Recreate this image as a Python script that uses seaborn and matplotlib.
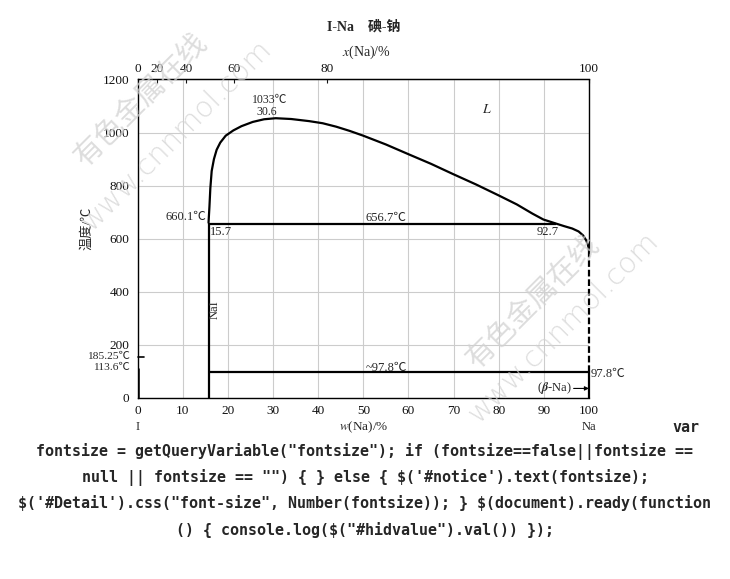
import numpy as np
import matplotlib
matplotlib.use("Agg")
import matplotlib.pyplot as plt
import seaborn as sns

# atomic masses for the at% <-> wt% top axis
M_I = 126.9
M_NA = 22.99

# liquidus curve, wt% Na vs temperature
liq_w = [15.7, 15.9, 16.1, 16.4, 16.9, 17.5, 18.3, 19.5, 21.2, 23.0, 25.5, 28.0, 30.6,
         34.0, 38.0, 41.0, 44.0, 47.0, 50.0, 55.0, 59.9, 65.0, 69.8, 75.0, 80.1,
         84.0, 87.5, 89.9, 92.7, 94.5, 96.3, 97.7, 98.7, 99.4, 99.8, 100.0]
liq_t = [660.1, 720, 790, 855, 900, 935, 962, 988, 1008, 1024, 1040, 1050, 1054,
         1051, 1043, 1035, 1022, 1006, 988, 955, 919, 882, 844, 804, 762,
         729, 694, 672, 656.7, 647, 638, 627, 612, 593, 575, 555]

# invariant points
nai_w = 15.7
nai_melt = 660.1
eut_t = 656.7
eut_w = 92.7
na_melt = 97.8
i_melt = 113.6
i_boil_mark = 154  # drawn position of the 185.25 mark
liq_end_t = 555

x_ticks = list(range(0, 101, 10))
y_ticks = list(range(0, 1201, 200))
top_ticks = [0, 20, 40, 60, 80, 100]

js_lines = [
    'fontsize = getQueryVariable("fontsize"); if (fontsize==false||fontsize ==',
    'null || fontsize == "") { } else { $(\'#notice\').text(fontsize);',
    '$(\'#Detail\').css("font-size", Number(fontsize)); } $(document).ready(function',
    '() { console.log($("#hidvalue").val()) });',
]
js_y = [451, 477, 503, 530]


def wt_to_at(w):
    w = np.clip(w, 0, 100)
    a = w / M_NA
    b = (100 - w) / M_I
    return 100 * a / (a + b)


def at_to_wt(x):
    x = np.clip(x, 0, 100)
    a = x * M_NA
    b = (100 - x) * M_I
    return 100 * a / (a + b)


sns.set_style("white")
plt.rcParams['font.family'] = ['Liberation Serif', 'Noto Sans CJK SC']
plt.rcParams['mathtext.fontset'] = 'stix'

fig = plt.figure(figsize=(7.3, 5.79), dpi=100)
ax = fig.add_axes([0.1886, 0.3131, 0.6182, 0.5496])

ax.set_xlim(0, 100)
ax.set_ylim(0, 1200)
ax.set_xticks(x_ticks)
ax.set_yticks(y_ticks)
ax.grid(True, color='#cccccc', lw=0.8)
ax.set_axisbelow(True)
ax.tick_params(axis='both', length=0, labelsize=9.5, colors='#111111')
ax.tick_params(axis='x', pad=5)
ax.tick_params(axis='y', pad=6)
for s in ['left', 'bottom', 'top']:
    ax.spines[s].set_color('black')
    ax.spines[s].set_linewidth(1.0)
ax.spines['right'].set_visible(False)

# liquidus
sns.lineplot(x=liq_w, y=liq_t, sort=False, estimator=None, color='black', lw=1.6, ax=ax)

# NaI compound, eutectic and Na-side lines
ax.vlines(nai_w, 0, nai_melt, color='black', lw=1.6)
ax.hlines(eut_t, nai_w, eut_w, color='black', lw=1.6)
ax.hlines(na_melt, nai_w, 100, color='black', lw=1.6)
ax.vlines(0, 0, i_melt, color='black', lw=1.8)
ax.plot([0, 1.3], [i_boil_mark, i_boil_mark], color='black', lw=1.2, clip_on=False)

# right edge: solid frame, dashed liquidus, solid below Na melting
ax.vlines(100, liq_end_t, 1200, color='black', lw=1.0, clip_on=False)
ax.vlines(100, na_melt, liq_end_t, color='black', lw=1.6, linestyles=(0, (3, 1.3)), clip_on=False)
ax.vlines(100, 0, na_melt, color='black', lw=1.6, clip_on=False)

# top axis in at%
sec = ax.secondary_xaxis('top', functions=(wt_to_at, at_to_wt))
sec.set_xticks(top_ticks)
sec.tick_params(direction='in', length=3, pad=3, labelsize=9.5, colors='#111111')

fs = 9
ax.text(29.3, 1122, '1033℃', ha='center', va='center', fontsize=8.5)
ax.text(28.7, 1076, '30.6', ha='center', va='center', fontsize=8.5)
ax.text(15.3, 682, '660.1℃', ha='right', va='center', fontsize=fs)
ax.text(16.0, 626, '15.7', ha='left', va='center', fontsize=fs)
ax.text(55.0, 676, '656.7℃', ha='center', va='center', fontsize=fs)
ax.text(90.9, 626, '92.7', ha='center', va='center', fontsize=fs)
ax.text(77.3, 1085, '$L$', ha='center', va='center', fontsize=10)
ax.text(17.1, 331, 'NaI', ha='center', va='center', fontsize=fs, rotation=90)
ax.text(55.2, 111, '~97.8℃', ha='center', va='center', fontsize=fs)
ax.text(100.4, 89, '97.8℃', ha='left', va='center', fontsize=fs, clip_on=False)
ax.text(96.2, 35, '($\\boldsymbol{\\beta}$-Na)', ha='right', va='center', fontsize=fs)
ax.annotate('', xy=(100, 35), xytext=(96.6, 35),
            arrowprops=dict(arrowstyle='-|>', lw=0.8, color='black', mutation_scale=6,
                            shrinkA=0, shrinkB=0))
ax.text(-1.7, 154, '185.25℃', ha='right', va='center', fontsize=8.2, clip_on=False)
ax.text(-1.7, 114, '113.6℃', ha='right', va='center', fontsize=8.2, clip_on=False)

ax.text(0, -0.092, 'I', transform=ax.get_xaxis_transform(), ha='center', va='center', fontsize=fs)
ax.text(100, -0.092, 'Na', transform=ax.get_xaxis_transform(), ha='center', va='center', fontsize=fs)
ax.text(50, -0.092, '$w$(Na)/%', transform=ax.get_xaxis_transform(), ha='center', va='center', fontsize=9.5)

ax.set_ylabel('温度/℃', fontsize=9.5)
ax.yaxis.set_label_coords(-0.099, 0.533)

fig.text(364 / 730, 1 - 27 / 579, 'I-Na    碘-钠', ha='center', va='center', fontsize=10, fontweight='bold')
fig.text(366 / 730, 1 - 52 / 579, '$x$(Na)/%', ha='center', va='center', fontsize=10)

# watermarks
wm = '#d2d2d2'
for cx, cy, s, fam in [(141, 100, '有色金属在线', 'Noto Sans CJK SC'),
                       (176, 136, 'www.cnnmol.com', 'DejaVu Sans'),
                       (533, 302, '有色金属在线', 'Noto Sans CJK SC'),
                       (563, 328, 'www.cnnmol.com', 'DejaVu Sans')]:
    fig.text(cx / 730, 1 - cy / 579, s, rotation=45, rotation_mode='anchor', ha='center', va='center',
             fontsize=21, color=wm, family=fam, alpha=0.75, fontweight='light')

# page script text under the figure
mono = 'DejaVu Sans Mono'
fig.text(686 / 730, 1 - 427 / 579, 'var', ha='center', va='center', fontsize=10.8,
         family=mono, fontweight='bold')
for line, y in zip(js_lines, js_y):
    fig.text(365 / 730, 1 - y / 579, line, ha='center', va='center', fontsize=10.8,
             family=mono, fontweight='bold', parse_math=False)

fig.savefig('out.png', dpi=100)
